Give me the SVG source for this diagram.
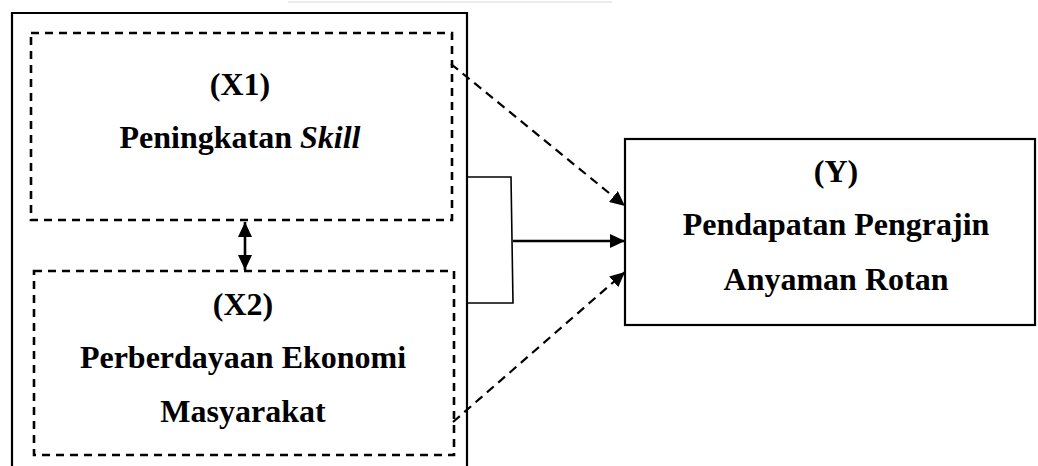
<svg xmlns="http://www.w3.org/2000/svg" width="1038" height="466" viewBox="0 0 1038 466">
<style>
.solid{fill:none;stroke:#000;stroke-width:2.2}
.thin{fill:none;stroke:#000;stroke-width:1.6}
.dash{fill:none;stroke:#000;stroke-width:2.6;stroke-dasharray:8 6}
.dline{fill:none;stroke:#000;stroke-width:2.2;stroke-dasharray:9 6}
text{font-family:"Liberation Serif","Times New Roman",serif;font-weight:bold;font-size:32px;fill:#000;text-anchor:middle}
</style>
<defs>
<marker id="ah" viewBox="0 0 15 14" refX="15" refY="7" markerWidth="15" markerHeight="14" markerUnits="userSpaceOnUse" orient="auto-start-reverse">
<path d="M0,0 L15,7 L0,14 Z" fill="#000"/>
</marker>
</defs>
<rect width="1038" height="466" fill="#fff"/>
<line x1="288" y1="2" x2="612" y2="2" stroke="#ececec" stroke-width="2"/>
<g id="outer-frame">
<path class="solid" d="M12,470 L12,13 L467,13 L467,470"/>
</g>
<g id="x1">
<rect class="dash" x="31" y="33" width="421" height="187"/>
<text x="240" y="95">(X1)</text>
<text x="240" y="148">Peningkatan <tspan font-style="italic">Skill</tspan></text>
</g>
<g id="x2">
<rect class="dash" x="34" y="271" width="420" height="184"/>
<text x="243" y="315">(X2)</text>
<text x="243" y="368">Perberdayaan Ekonomi</text>
<text x="243" y="422">Masyarakat</text>
</g>
<g id="y">
<rect class="solid" x="625" y="139" width="410" height="186"/>
<text x="836" y="182">(Y)</text>
<text x="836" y="235">Pendapatan Pengrajin</text>
<text x="836" y="290">Anyaman Rotan</text>
</g>
<g id="connectors">
<line x1="245" y1="222" x2="245" y2="270" stroke="#000" stroke-width="2.6" marker-start="url(#ah)" marker-end="url(#ah)"/>
<path class="thin" d="M467,177 L511,177 L513,303 L467,303"/>
<line x1="513" y1="241" x2="625" y2="241" stroke="#000" stroke-width="2.4" marker-end="url(#ah)"/>
<line class="dline" x1="451" y1="64" x2="625" y2="206" marker-end="url(#ah)"/>
<line class="dline" x1="453" y1="422" x2="625" y2="272" marker-end="url(#ah)"/>
</g>
</svg>
